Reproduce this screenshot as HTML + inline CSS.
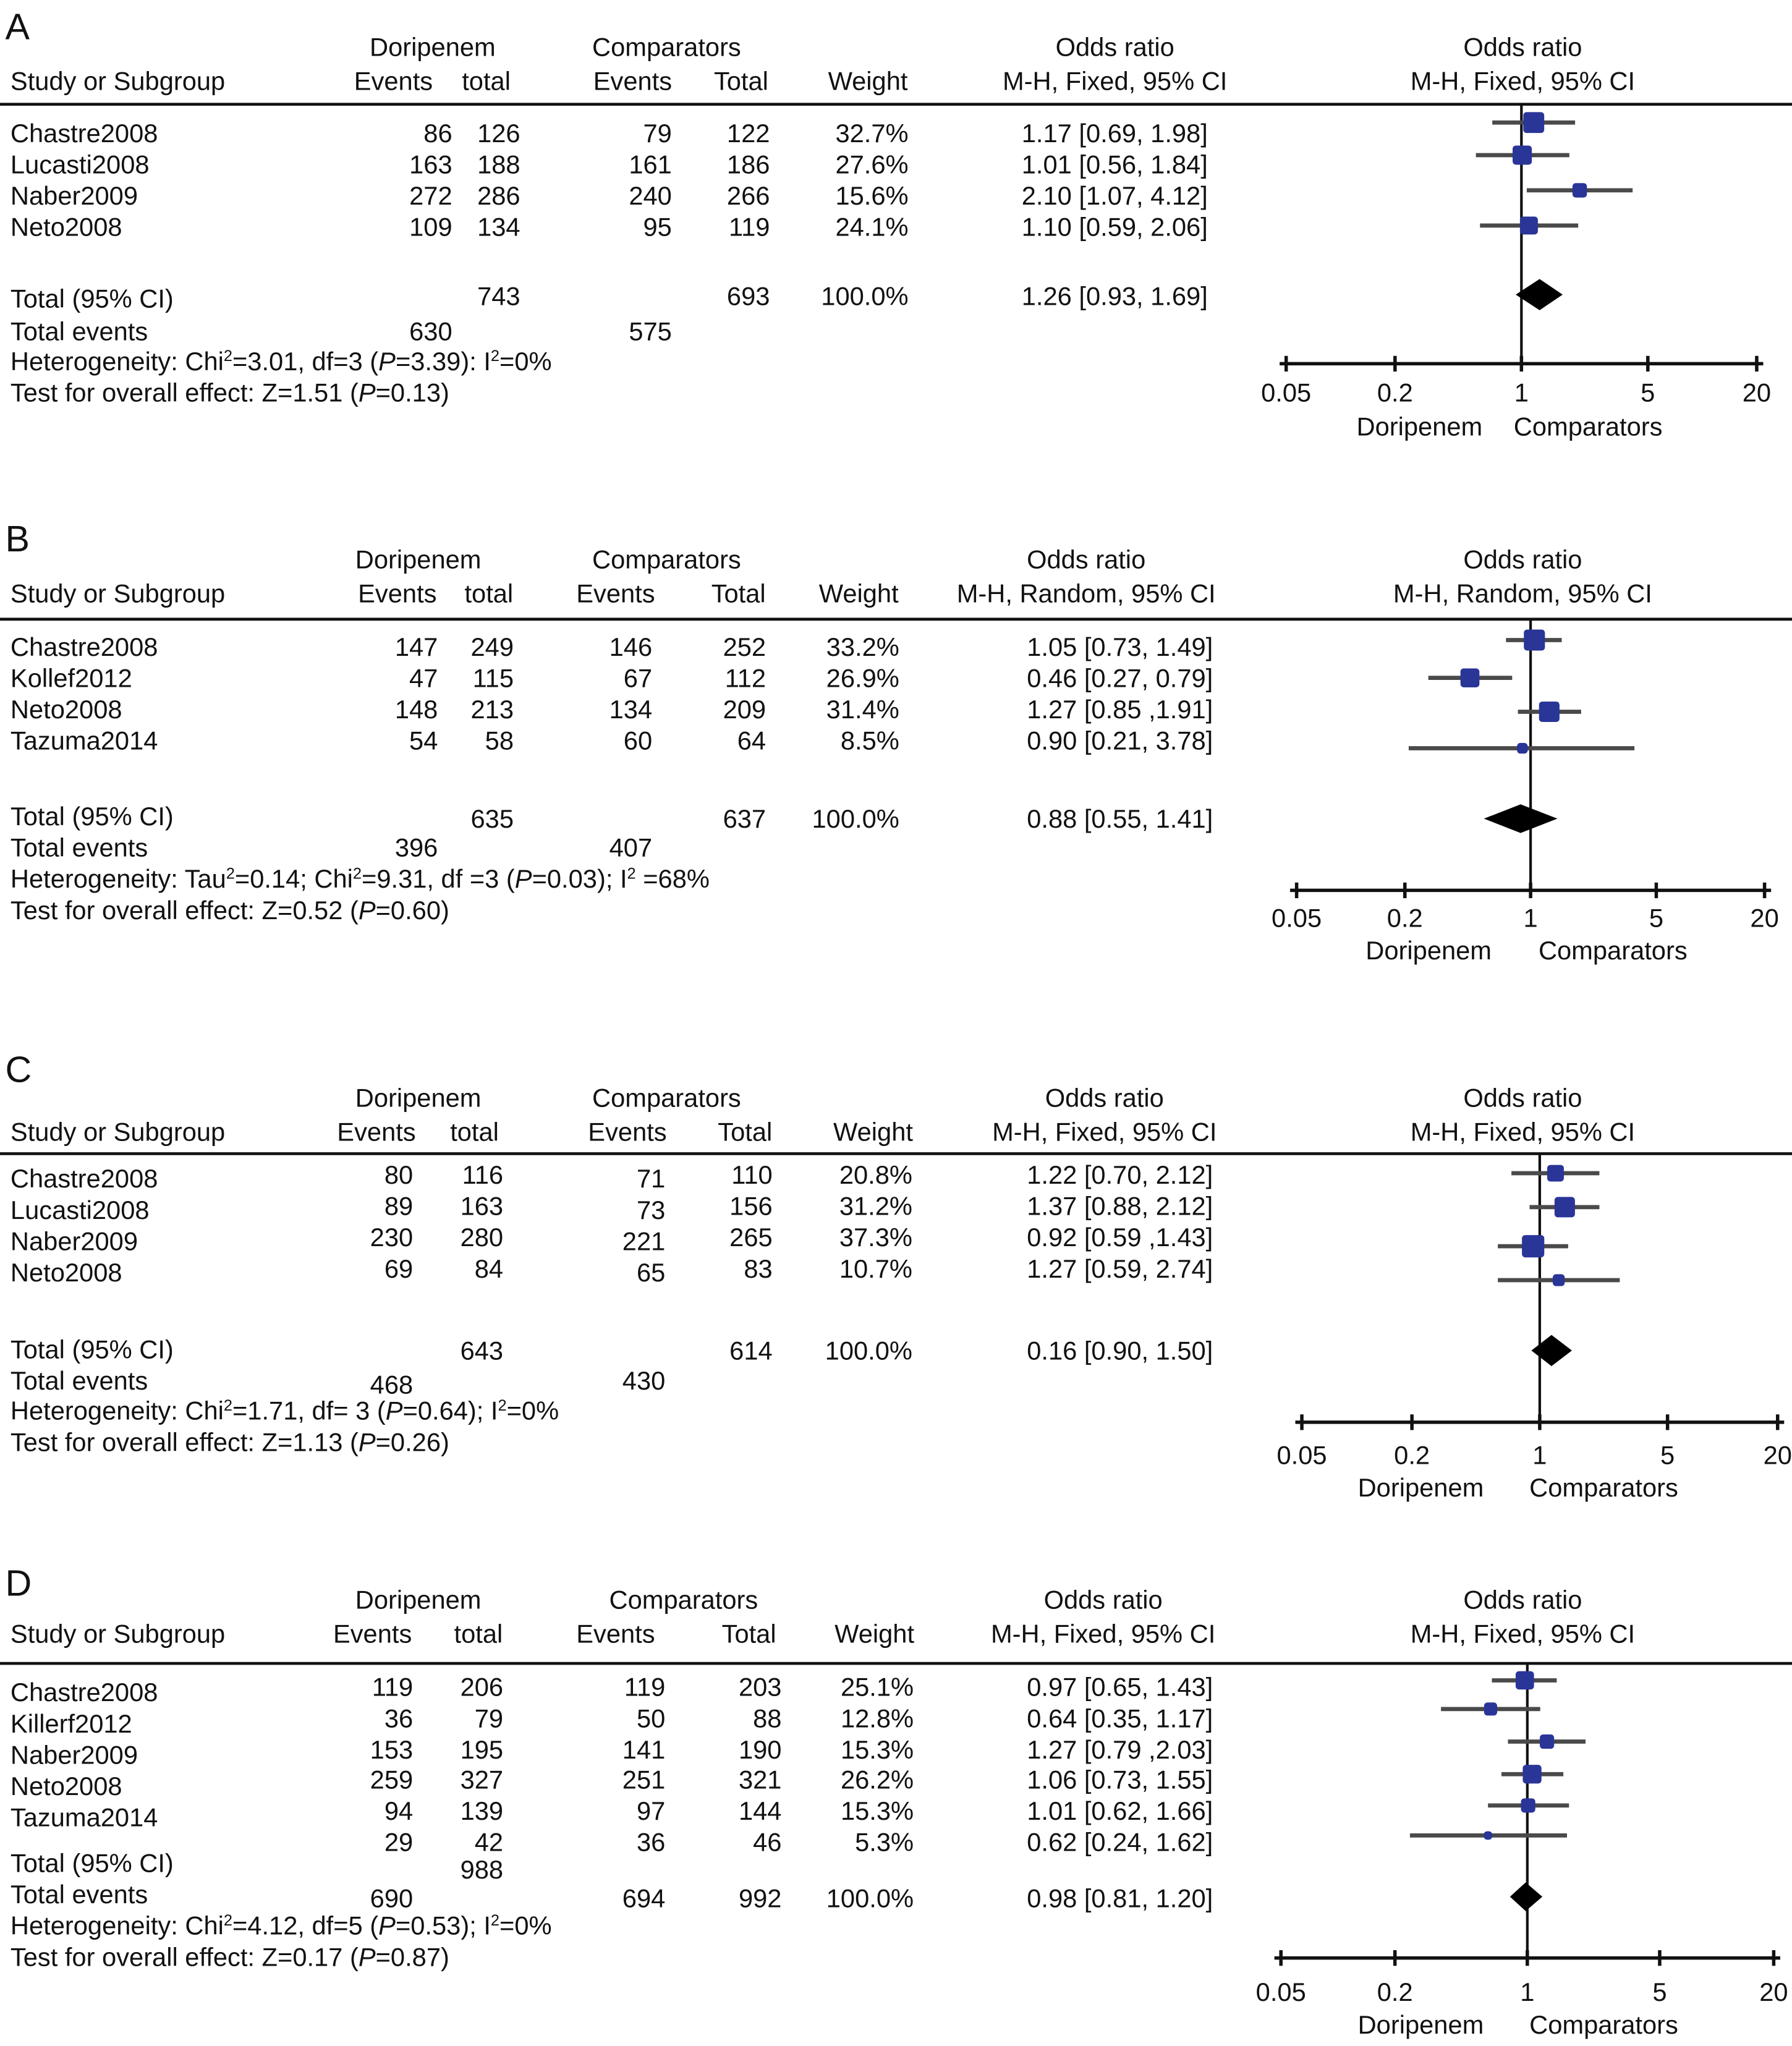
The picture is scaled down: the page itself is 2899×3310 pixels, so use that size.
<!DOCTYPE html>
<html><head><meta charset="utf-8"><style>
html,body{margin:0;padding:0;background:#fff;}
svg{display:block;font-family:"Liberation Sans",Arial,sans-serif;}
</style></head><body>
<svg id="fig" width="2899" height="3310" viewBox="0 0 1371 1569.5" preserveAspectRatio="none" xmlns="http://www.w3.org/2000/svg">
<g id="root"></g>
</svg>
<script>
// ---- data ----
const panelLetters = ["A","B","C","D"];
const studiesA = ["Chastre2008","Lucasti2008","Naber2009","Neto2008"];
const studiesB = ["Chastre2008","Kollef2012","Neto2008","Tazuma2014"];
const studiesC = ["Chastre2008","Lucasti2008","Naber2009","Neto2008"];
const studiesD = ["Chastre2008","Killerf2012","Naber2009","Neto2008","Tazuma2014",""];
const dorEventsA = [86,163,272,109], dorTotalA = [126,188,286,134], compEventsA = [79,161,240,95], compTotalA = [122,186,266,119];
const dorEventsB = [147,47,148,54], dorTotalB = [249,115,213,58], compEventsB = [146,67,134,60], compTotalB = [252,112,209,64];
const dorEventsC = [80,89,230,69], dorTotalC = [116,163,280,84], compEventsC = [71,73,221,65], compTotalC = [110,156,265,83];
const dorEventsD = [119,36,153,259,94,29], dorTotalD = [206,79,195,327,139,42], compEventsD = [119,50,141,251,97,36], compTotalD = [203,88,190,321,144,46];
const weightsA = [32.7,27.6,15.6,24.1], weightsB = [33.2,26.9,31.4,8.5], weightsC = [20.8,31.2,37.3,10.7], weightsD = [25.1,12.8,15.3,26.2,15.3,5.3];
const orA = [1.17,1.01,2.10,1.10], loA = [0.69,0.56,1.07,0.59], hiA = [1.98,1.84,4.12,2.06];
const orB = [1.05,0.46,1.27,0.90], loB = [0.73,0.27,0.85,0.21], hiB = [1.49,0.79,1.91,3.78];
const orC = [1.22,1.37,0.92,1.27], loC = [0.70,0.88,0.59,0.59], hiC = [2.12,2.12,1.43,2.74];
const orD = [0.97,0.64,1.27,1.06,1.01,0.62], loD = [0.65,0.35,0.79,0.73,0.62,0.24], hiD = [1.43,1.17,2.03,1.55,1.66,1.62];
const ciTextA = ["1.17 [0.69, 1.98]","1.01 [0.56, 1.84]","2.10 [1.07, 4.12]","1.10 [0.59, 2.06]"];
const ciTextB = ["1.05 [0.73, 1.49]","0.46 [0.27, 0.79]","1.27 [0.85 ,1.91]","0.90 [0.21, 3.78]"];
const ciTextC = ["1.22 [0.70, 2.12]","1.37 [0.88, 2.12]","0.92 [0.59 ,1.43]","1.27 [0.59, 2.74]"];
const ciTextD = ["0.97 [0.65, 1.43]","0.64 [0.35, 1.17]","1.27 [0.79 ,2.03]","1.06 [0.73, 1.55]","1.01 [0.62, 1.66]","0.62 [0.24, 1.62]"];
const totalOR = [1.26,0.88,1.16,0.98], totalLo = [0.93,0.55,0.90,0.81], totalHi = [1.69,1.41,1.50,1.20];
const totalText = ["1.26 [0.93, 1.69]","0.88 [0.55, 1.41]","0.16 [0.90, 1.50]","0.98 [0.81, 1.20]"];
const totalDor = [743,635,643,988], totalComp = [693,637,614,992];
const eventsDor = [630,396,468,690], eventsComp = [575,407,430,694];
const tickValues = [0.05,0.2,1,5,20];
const tickLabels = ["0.05","0.2","1","5","20"];
const methods = ["M-H, Fixed, 95% CI","M-H, Random, 95% CI","M-H, Fixed, 95% CI","M-H, Fixed, 95% CI"];

// ---- layout (display units) ----
const NS="http://www.w3.org/2000/svg";
const FS=19.7;
const root=document.getElementById('root');
function el(tag,attrs,parent){const e=document.createElementNS(NS,tag);for(const k in attrs)e.setAttribute(k,attrs[k]);(parent||root).appendChild(e);return e;}
function txt(s,x,y,anchor,parent,size){const t=el('text',{x:x,y:y,'text-anchor':anchor||'start','font-size':size||FS,fill:'#111'},parent);t.textContent=s;return t;}

const layouts=[
 {letterY:30,h1:43,h2:69,line:80,rowY:[109,133,157,181],numY:null,compOff:0,totY:236,totNumY:234,evY:261,hetY:284,testY:308,
  cols:{ev:346,tot:398,cev:514,ctot:589,w:695,ci:924},hdr:{dor:331,comp:510,or:853,ev1:301,t1:372,ev2:484,t2:567,w:664},
  ax:{y:279,x0:984,x1:1344,tickY:308,labY:334,dorX:1086,compX:1215},mk:[94,119,146,173],dia:226,dh:12},
 {letterY:423,h1:436,h2:462,line:475,rowY:[503,527,551,575],numY:null,compOff:0,totY:633,totNumY:635,evY:657,hetY:681,testY:705,
  cols:{ev:335,tot:393,cev:499,ctot:586,w:688,ci:928},hdr:{dor:320,comp:510,or:831,ev1:304,t1:374,ev2:471,t2:565,w:657},
  ax:{y:683,x0:992,x1:1350,tickY:711,labY:736,dorX:1093,compX:1234},mk:[491,520,546,574],dia:628,dh:11},
 {letterY:830,h1:849,h2:875,line:885,rowY:[911,935,959,983],numY:[908,932,956,980],compOff:3,totY:1042,totNumY:1043,evY:1066,hetY:1089,testY:1113,
  cols:{ev:316,tot:385,cev:509,ctot:591,w:698,ci:928},hdr:{dor:320,comp:510,or:845,ev1:288,t1:363,ev2:480,t2:570,w:668},
  ax:{y:1091,x0:996,x1:1360,tickY:1123,labY:1148,dorX:1087,compX:1227},mk:[900,926,956,982],dia:1036,dh:12},
 {letterY:1224,h1:1234,h2:1260,line:1276,rowY:[1305,1329,1353,1377,1401,1425],numY:[1301,1325,1349,1372,1396,1420],compOff:0,totY:1436,totNumY:1441,evY:1460,hetY:1484,testY:1508,
  cols:{ev:316,tot:385,cev:509,ctot:598,w:699,ci:928},hdr:{dor:320,comp:523,or:844,ev1:285,t1:366,ev2:471,t2:573,w:669},
  ax:{y:1502,x0:980,x1:1357,tickY:1535,labY:1560,dorX:1087,compX:1227},mk:[1289,1311,1336,1361,1385,1408],dia:1455,dh:11}
];
const studiesAll=[studiesA,studiesB,studiesC,studiesD];
const dE=[dorEventsA,dorEventsB,dorEventsC,dorEventsD], dT=[dorTotalA,dorTotalB,dorTotalC,dorTotalD];
const cE=[compEventsA,compEventsB,compEventsC,compEventsD], cT=[compTotalA,compTotalB,compTotalC,compTotalD];
const W=[weightsA,weightsB,weightsC,weightsD], OR=[orA,orB,orC,orD], LO=[loA,loB,loC,loD], HI=[hiA,hiB,hiC,hiD];
const CIT=[ciTextA,ciTextB,ciTextC,ciTextD];
const hetTexts=[
 [["Heterogeneity: Chi"],["2","sup"],["=3.01, df=3 ("],["P","it"],["=3.39): I"],["2","sup"],["=0%"]],
 [["Heterogeneity: Tau"],["2","sup"],["=0.14; Chi"],["2","sup"],["=9.31, df =3 ("],["P","it"],["=0.03); I"],["2","sup"],[" =68%"]],
 [["Heterogeneity: Chi"],["2","sup"],["=1.71, df= 3 ("],["P","it"],["=0.64); I"],["2","sup"],["=0%"]],
 [["Heterogeneity: Chi"],["2","sup"],["=4.12, df=5 ("],["P","it"],["=0.53); I"],["2","sup"],["=0%"]]
];
const testTexts=[["1.51","0.13"],["0.52","0.60"],["1.13","0.26"],["0.17","0.87"]];

layouts.forEach((L,p)=>{
  const g=el('g',{});
  
  
  const lt=txt(panelLetters[p],4,L.letterY,'start',g,28);
  
  
  const H=L.hdr;
  txt('Doripenem',H.dor,L.h1,'middle',g);
  txt('Comparators',H.comp,L.h1,'middle',g);
  txt('Odds ratio',H.or,L.h1,'middle',g);
  txt('Odds ratio',1165,L.h1,'middle',g);
  txt('Study or Subgroup',8,L.h2,'start',g);
  txt('Events',H.ev1,L.h2,'middle',g);
  txt('total',H.t1,L.h2,'middle',g);
  txt('Events',H.ev2,L.h2,'middle',g);
  txt('Total',H.t2,L.h2,'middle',g);
  txt('Weight',H.w,L.h2,'middle',g);
  txt(methods[p],H.or,L.h2,'middle',g);
  txt(methods[p],1165,L.h2,'middle',g);
  const hl=el('line',{x1:0,x2:1372,y1:L.line,y2:L.line,stroke:'#111','stroke-width':2.2},g);
  
  
  const C=L.cols, st=studiesAll[p];
  st.forEach((s,i)=>{
    const ny=L.numY?L.numY[i]:L.rowY[i];
    if(s){const t=txt(s,8,L.rowY[i],'start',g);
      
      }
    txt(String(dE[p][i]),C.ev,ny,'end',g);
    txt(String(dT[p][i]),C.tot,ny,'end',g);
    txt(String(cE[p][i]),C.cev,ny+L.compOff,'end',g);
    txt(String(cT[p][i]),C.ctot,ny,'end',g);
    txt(W[p][i].toFixed(1)+'%',C.w,ny,'end',g);
    txt(CIT[p][i],C.ci,ny,'end',g);
  });
  txt('Total (95% CI)',8,L.totY,'start',g);
  txt(String(totalDor[p]),C.tot,L.totNumY,'end',g);
  const lastY = p===3 ? 1463 : L.totNumY;
  txt(String(totalComp[p]),C.ctot,lastY,'end',g);
  txt('100.0%',C.w,lastY,'end',g);
  txt(totalText[p],C.ci,lastY,'end',g);
  txt('Total events',8,L.evY,'start',g);
  const evNumY = p===2||p===3 ? L.evY+3 : L.evY;
  txt(String(eventsDor[p]),C.ev,evNumY,'end',g);
  txt(String(eventsComp[p]),C.cev,p===3?evNumY:L.evY,'end',g);
  const ht=el('text',{x:8,y:L.hetY,'font-size':FS,fill:'#111'},g);
  let prevSup=false;
  hetTexts[p].forEach(([s,k])=>{const ts=el('tspan',{},ht);ts.textContent=s;
    if(k==='sup'){ts.setAttribute('font-size',12);ts.setAttribute('dy',-7);prevSup=true;}
    else{ if(k==='it'){ts.setAttribute('font-style','italic');} if(prevSup){ts.setAttribute('dy',7);} prevSup=false;}
  });
  const tt=el('text',{x:8,y:L.testY,'font-size':FS,fill:'#111'},g);
  [["Test for overall effect: Z="+testTexts[p][0]+" ("],["P","it"],["="+testTexts[p][1]+")"]].forEach(([s,k])=>{const ts=el('tspan',{},tt);ts.textContent=s;if(k)ts.setAttribute('font-style','italic');});

  // plot
  const A=L.ax;
  const lmin=Math.log10(0.05), lmax=Math.log10(20);
  const xs=v=>A.x0+(Math.log10(v)-lmin)/(lmax-lmin)*(A.x1-A.x0);
  const pg=el('g',{},g);
  
  
  const vl=el('line',{x1:xs(1),x2:xs(1),y1:L.line,y2:A.y,stroke:'#111','stroke-width':2},pg);
  
  
  const axl=el('line',{x1:A.x0-5,x2:A.x1+5,y1:A.y,y2:A.y,stroke:'#111','stroke-width':2.6},pg);
  
  
  tickValues.forEach((v,i)=>{
    el('line',{x1:xs(v),x2:xs(v),y1:A.y-6,y2:A.y+6,stroke:'#111','stroke-width':2.6},pg);
    const t=txt(tickLabels[i],xs(v),A.tickY,'middle',pg);
    
    
  });
  txt('Doripenem',A.dorX,A.labY,'middle',pg);
  txt('Comparators',A.compX,A.labY,'middle',pg);
  OR[p].forEach((v,i)=>{
    const y=L.mk[i];
    const ci=el('line',{x1:xs(LO[p][i]),x2:xs(HI[p][i]),y1:y,y2:y,stroke:'#4a4a4a','stroke-width':3.2},pg);
    
    
    const s=Math.sqrt(W[p][i])*2.8;
    const r=el('rect',{x:xs(v)-s/2,y:y-s/2,width:s,height:s,rx:2.5,fill:'#2a3598'},pg);
    
    
  });
  const dy=L.dia, dh=L.dh;
  const d=el('polygon',{points:`${xs(totalLo[p])},${dy} ${xs(totalOR[p])},${dy-dh} ${xs(totalHi[p])},${dy} ${xs(totalOR[p])},${dy+dh}`,fill:'#000'},pg);
  
  
});
</script>
</body></html>
